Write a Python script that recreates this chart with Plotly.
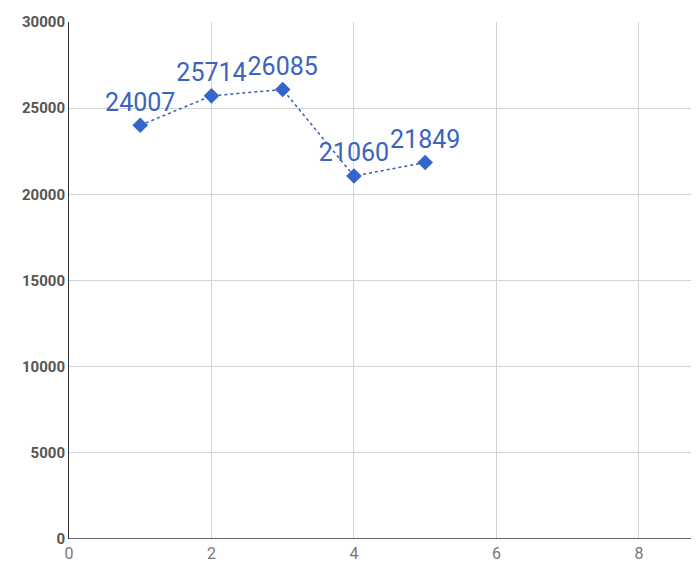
import plotly.graph_objects as go

x_vals = [1, 2, 3, 4, 5]
y_vals = [24007, 25714, 26085, 21060, 21849]
labels = [str(v) for v in y_vals]
y_ticks = [0, 5000, 10000, 15000, 20000, 25000, 30000]
y_tick_text = [str(v) for v in y_ticks]
x_ticks = [0, 2, 4, 6, 8]

fig = go.Figure()
fig.add_trace(go.Scatter(
    x=x_vals, y=y_vals, mode="lines+markers+text",
    text=labels, textposition="top center",
    textfont=dict(family="Roboto", size=25, color="#3a64c0"),
    line=dict(color="#3a5cb0", width=1.5, dash="dot"),
    marker=dict(symbol="diamond", size=12, color="#3366cc"),
    showlegend=False, cliponaxis=False,
))

# page body has an 8px margin; compensate so plot area matches reference
fig.update_layout(
    width=700, height=557,
    margin=dict(l=61, r=0, t=14, b=26),
    plot_bgcolor="white", paper_bgcolor="white",
    font=dict(family="Roboto"),
)
fig.update_xaxes(
    range=[0, 8.97], tickvals=x_ticks,
    showgrid=True, gridcolor="#d3d3d3", gridwidth=1,
    showline=False, zeroline=False,
    tickfont=dict(size=16, color="#777"), ticks="", ticklen=0,
    ticklabelstandoff=3,
)
fig.update_yaxes(
    range=[0, 30000], tickvals=y_ticks, ticktext=y_tick_text,
    showgrid=True, gridcolor="#d3d3d3", gridwidth=1,
    showline=True, linecolor="#333", linewidth=1, mirror=False,
    zeroline=False,
    tickfont=dict(size=15, color="#555", weight="bold"), ticks="",
)
fig.add_shape(type="line", xref="paper", yref="y", x0=0, x1=1, y0=0, y1=0,
              line=dict(color="#333", width=1.5))
fig.write_html("out.html")
